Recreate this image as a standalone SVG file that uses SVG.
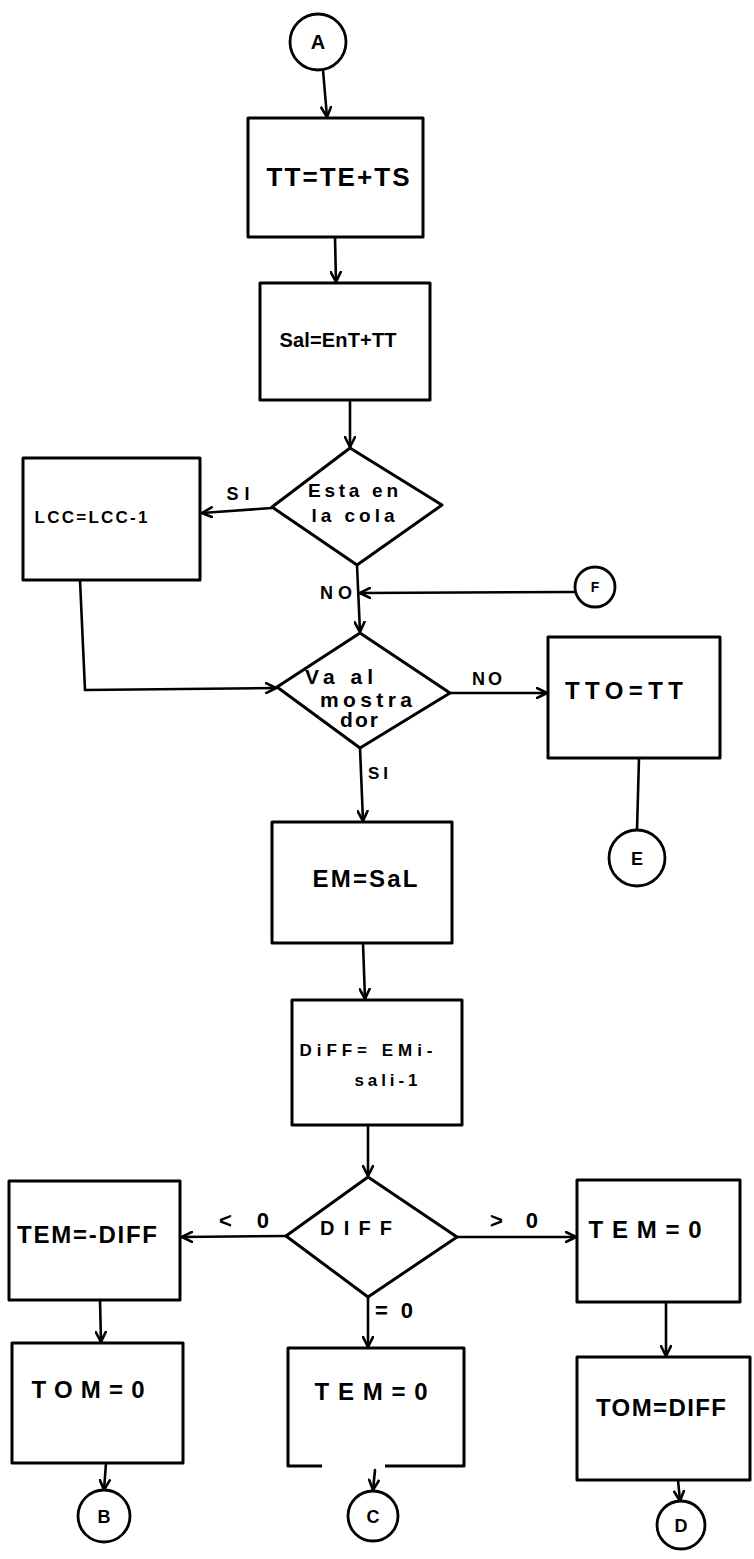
<svg xmlns="http://www.w3.org/2000/svg" width="754" height="1559" viewBox="0 0 754 1559">
<defs>
<marker id="ah" viewBox="0 0 12 12" refX="11" refY="6" markerWidth="12" markerHeight="12" markerUnits="userSpaceOnUse" orient="auto">
<path d="M1,1 L11,6 L1,11" fill="none" stroke="#000" stroke-width="2.6" stroke-linecap="round" stroke-linejoin="round"/>
</marker>
</defs>
<style>
.b{fill:#fff;stroke:#000;stroke-width:3;stroke-linejoin:round}
.c{fill:#fff;stroke:#000;stroke-width:2.8}
.l{fill:none;stroke:#000;stroke-width:2.6;stroke-linecap:round}
.a{marker-end:url(#ah)}
text{font-family:"Liberation Sans",Arial,sans-serif;font-weight:700;fill:#000;text-anchor:middle}
</style>
<rect width="754" height="1559" fill="#fff"/>
<g id="connectors">
<path class="l a" d="M323,70 L327,117"/>
<path class="l a" d="M335,237 L336,282"/>
<path class="l a" d="M350,402 L350,447"/>
<path class="l a" d="M272,508 L202,513"/>
<path class="l a" d="M357,565 L360,632"/>
<path class="l a" d="M575,592 L360,593"/>
<path class="l a" d="M80,580 L85,690 L276,688"/>
<path class="l a" d="M450,693 L547,693"/>
<path class="l" d="M639,758 L637,830"/>
<path class="l a" d="M360,748 L363,821"/>
<path class="l a" d="M363,943 L365,999"/>
<path class="l a" d="M368,1125 L368,1176"/>
<path class="l a" d="M286,1236 L182,1237"/>
<path class="l a" d="M457,1237 L576,1237"/>
<path class="l a" d="M368,1297 L368,1347"/>
<path class="l a" d="M100,1300 L101,1342"/>
<path class="l a" d="M666,1302 L666,1356"/>
<path class="l a" d="M106,1463 L104,1490"/>
<path class="l a" d="M375,1470 L373,1490"/>
<path class="l a" d="M678,1480 L680,1501"/>
</g>
<g id="labels">
<text x="238" y="500" font-size="18" textLength="23">SI</text>
<text x="336" y="599" font-size="18" textLength="32">NO</text>
<text x="487" y="685" font-size="18" textLength="30">NO</text>
<text x="378" y="779" font-size="17" textLength="20">SI</text>
<text x="244" y="1228" font-size="22" textLength="50">&lt; 0</text>
<text x="514" y="1228" font-size="22" textLength="48">&gt; 0</text>
<text x="394" y="1318" font-size="22" textLength="38">=0</text>
</g>
<g id="nA"><circle class="c" cx="318" cy="42" r="28"/><text x="318" y="49" font-size="20">A</text></g>
<g id="n1"><rect class="b" x="248" y="118" width="175" height="119"/><text x="338" y="186" font-size="26" textLength="143">TT=TE+TS</text></g>
<g id="n2"><rect class="b" x="260" y="283" width="170" height="117"/><text x="338" y="347" font-size="20" textLength="117">Sal=EnT+TT</text></g>
<g id="n3"><polygon class="b" points="350,448 442,505 357,565 272,507"/><text x="353" y="497" font-size="19" textLength="90">Esta en</text><text x="353" y="522" font-size="19" textLength="83">la cola</text></g>
<g id="n4"><rect class="b" x="23" y="458" width="177" height="122"/><text x="91" y="523" font-size="17" textLength="113">LCC=LCC-1</text></g>
<g id="nF"><circle class="c" cx="595" cy="587" r="20"/><text x="595" y="592" font-size="14">F</text></g>
<g id="n5"><polygon class="b" points="360,633 450,693 360,748 277,687"/><text x="339" y="684" font-size="21" textLength="68">Va al</text><text x="366" y="707" font-size="21" textLength="92">mostra</text><text x="359" y="727" font-size="21" textLength="38">dor</text></g>
<g id="n6"><rect class="b" x="548" y="637" width="172" height="121"/><text x="624" y="699" font-size="24" textLength="118">TTO=TT</text></g>
<g id="nE"><circle class="c" cx="637" cy="858" r="28"/><text x="637" y="865" font-size="18">E</text></g>
<g id="n7"><rect class="b" x="272" y="822" width="180" height="121"/><text x="365" y="887" font-size="24" textLength="105">EM=SaL</text></g>
<g id="n8"><rect class="b" x="292" y="1000" width="170" height="125"/><text x="366" y="1056" font-size="17" textLength="133">DiFF= EMi-</text><text x="386" y="1086" font-size="17" textLength="63">sali-1</text></g>
<g id="n9"><polygon class="b" points="368,1177 457,1237 368,1297 286,1236"/><text x="356" y="1235" font-size="20" textLength="72">DIFF</text></g>
<g id="n10"><rect class="b" x="9" y="1181" width="171" height="119"/><text x="87" y="1243" font-size="24" textLength="140">TEM=-DIFF</text></g>
<g id="n11"><rect class="b" x="577" y="1180" width="163" height="122"/><text x="645" y="1238" font-size="24" textLength="113">TEM=0</text></g>
<g id="n12"><rect class="b" x="12" y="1343" width="171" height="120"/><text x="88" y="1398" font-size="24" textLength="113">TOM=0</text></g>
<g id="n13"><path class="b" d="M322,1466 L288,1466 L288,1348 L464,1348 L464,1466 L385,1466"/><text x="371" y="1400" font-size="24" textLength="113">TEM=0</text></g>
<g id="n14"><rect class="b" x="577" y="1357" width="173" height="123"/><text x="661" y="1416" font-size="24" textLength="130">TOM=DIFF</text></g>
<g id="nB"><circle class="c" cx="104" cy="1516" r="26"/><text x="104" y="1523" font-size="18">B</text></g>
<g id="nC"><circle class="c" cx="373" cy="1516" r="25"/><text x="373" y="1523" font-size="18">C</text></g>
<g id="nD"><circle class="c" cx="681" cy="1525" r="24"/><text x="681" y="1532" font-size="18">D</text></g>
</svg>
